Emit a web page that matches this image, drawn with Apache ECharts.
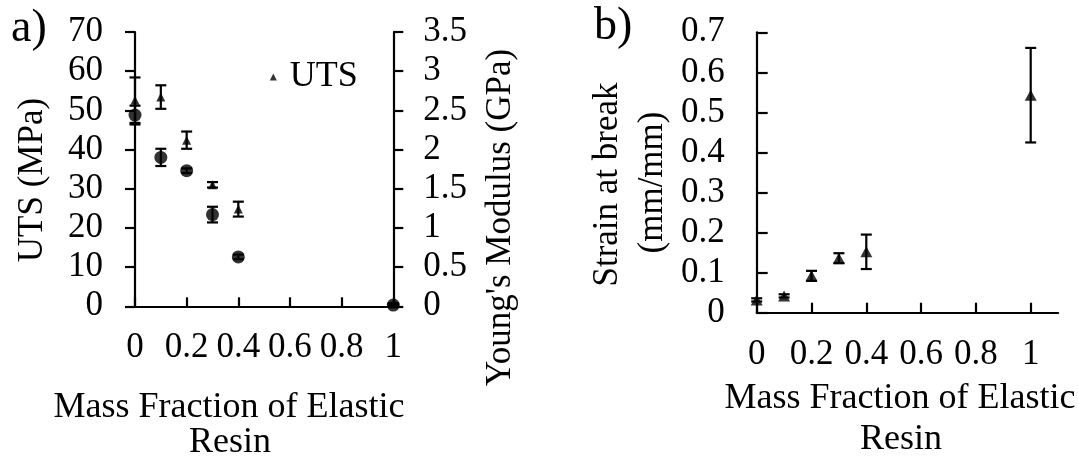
<!DOCTYPE html>
<html><head><meta charset="utf-8">
<script src="https://cdn.jsdelivr.net/npm/echarts@6/dist/echarts.min.js"></script>
<style>html,body{margin:0;padding:0;background:#fff}#c{width:1078px;height:457px}</style>
</head><body><div id="c"></div>
<script>
// ---- data ----
const massFraction = [0, 0.1, 0.2, 0.3, 0.4, 1];
const utsMean = [52.6, 53.4, 42.4, 31.0, 24.8, 0.6];      // MPa
const utsErr  = [5.8, 3.0, 2.2, 0.7, 1.9, 0.2];
const modulusMean = [2.44, 1.90, 1.73, 1.17, 0.63, 0.015]; // GPa
const modulusErr  = [0.12, 0.11, 0.03, 0.10, 0.03, 0.005];
const strainMean = [0.032, 0.042, 0.092, 0.136, 0.152, 0.543]; // mm/mm
const strainErr  = [0.004, 0.004, 0.0125, 0.0125, 0.043, 0.118];
const xTickValues = [0, 0.2, 0.4, 0.6, 0.8, 1];

const FONT = 'Liberation Serif';
const pts = (ys) => massFraction.map((x, i) => [x, ys[i]]);
const errs = (ys, es) => massFraction.map((x, i) => [x, ys[i] - es[i], ys[i] + es[i]]);

function errRender(params, api) {
  const x = api.value(0), lo = api.value(1), hi = api.value(2);
  const p1 = api.coord([x, lo]), p2 = api.coord([x, hi]);
  const hw = 5.5;
  const style = { stroke: '#000', lineWidth: 2.2 };
  return { type: 'group', children: [
    { type: 'line', shape: { x1: p1[0], y1: p1[1], x2: p2[0], y2: p2[1] }, style },
    { type: 'line', shape: { x1: p1[0] - hw, y1: p1[1], x2: p1[0] + hw, y2: p1[1] }, style },
    { type: 'line', shape: { x1: p2[0] - hw, y1: p2[1], x2: p2[0] + hw, y2: p2[1] }, style }
  ]};
}

const axisLineStyle = { show: true, lineStyle: { color: '#000', width: 2.2 } };
const tickStyle = { lineStyle: { color: '#000', width: 2.2 } };
const labelBase = { color: '#000', fontFamily: FONT, fontSize: 35 };

const chart = echarts.init(document.getElementById('c'), null, { renderer: 'canvas' });
chart.setOption({
  animation: false,
  backgroundColor: '#fff',
  grid: [
    { left: 135, top: 32, width: 258.3, height: 274.3 },
    { left: 756.7, top: 32.3, width: 301.4, height: 280.4 }
  ],
  legend: {
    data: ['UTS'], icon: 'triangle', itemWidth: 7, itemHeight: 7,
    left: 269.8, top: 59, padding: 0, selectedMode: false,
    textStyle: { color: '#000', fontFamily: FONT, fontSize: 36, padding: [0, 0, 0, 8] }
  },
  xAxis: [
    { type: 'value', gridIndex: 0, min: 0, max: 1, interval: 0.2,
      axisLine: axisLineStyle, splitLine: { show: false },
      axisTick: Object.assign({ inside: true, length: 9 }, tickStyle),
      axisLabel: Object.assign({ margin: 24.5 }, labelBase) },
    { type: 'value', gridIndex: 1, min: 0, max: 1.1,
      axisLine: axisLineStyle, splitLine: { show: false },
      axisTick: Object.assign({ inside: true, length: 10, customValues: xTickValues }, tickStyle),
      axisLabel: Object.assign({ margin: 25, customValues: xTickValues }, labelBase) }
  ],
  yAxis: [
    { type: 'value', gridIndex: 0, min: 0, max: 70, interval: 10,
      axisLine: axisLineStyle, splitLine: { show: false },
      axisTick: Object.assign({ inside: false, length: 10 }, tickStyle),
      axisLabel: Object.assign({ margin: 32 }, labelBase) },
    { type: 'value', gridIndex: 0, position: 'right', min: 0, max: 3.5, interval: 0.5,
      axisLine: axisLineStyle, splitLine: { show: false },
      axisTick: Object.assign({ inside: false, length: 10 }, tickStyle),
      axisLabel: Object.assign({ margin: 30 }, labelBase) },
    { type: 'value', gridIndex: 1, min: 0, max: 0.7, interval: 0.1,
      axisLine: axisLineStyle, splitLine: { show: false },
      axisTick: Object.assign({ inside: true, length: 11 }, tickStyle),
      axisLabel: Object.assign({ margin: 32 }, labelBase) }
  ],
  series: [
    { name: 'UTS err', type: 'custom', xAxisIndex: 0, yAxisIndex: 0, renderItem: errRender,
      encode: { x: 0, y: [1, 2] }, data: errs(utsMean, utsErr), z: 3 },
    { name: 'Modulus err', type: 'custom', xAxisIndex: 0, yAxisIndex: 1, renderItem: errRender,
      encode: { x: 0, y: [1, 2] }, data: errs(modulusMean, modulusErr), z: 3 },
    { name: "Young's Modulus", type: 'scatter', xAxisIndex: 0, yAxisIndex: 1,
      symbol: 'circle', symbolSize: 13, itemStyle: { color: '#000' }, data: pts(modulusMean), z: 4 },
    { name: 'UTS', type: 'scatter', xAxisIndex: 0, yAxisIndex: 0,
      symbol: 'triangle', symbolSize: [9, 9], itemStyle: { color: '#000' }, data: pts(utsMean), z: 5 },
    { name: 'Strain err', type: 'custom', xAxisIndex: 1, yAxisIndex: 2, renderItem: errRender,
      encode: { x: 0, y: [1, 2] }, data: errs(strainMean, strainErr), z: 3 },
    { name: 'Strain at break', type: 'scatter', xAxisIndex: 1, yAxisIndex: 2,
      symbol: 'triangle', symbolSize: [12, 11], itemStyle: { color: '#000' }, data: pts(strainMean), z: 4 }
  ],
  graphic: [
    { type: 'text', left: 11, top: 6, style: { text: 'a)', font: '46px "Liberation Serif"', fill: '#000' } },
    { type: 'text', left: 594, top: 4, style: { text: 'b)', font: '46px "Liberation Serif"', fill: '#000' } },
    { type: 'text', x: 33, y: 180, rotation: Math.PI / 2,
      style: { text: 'UTS (MPa)', font: '35px "Liberation Serif"', fill: '#000', align: 'center', verticalAlign: 'middle' } },
    { type: 'text', x: 501, y: 217.5, rotation: Math.PI / 2,
      style: { text: "Young's Modulus (GPa)", font: '35px "Liberation Serif"', fill: '#000', align: 'center', verticalAlign: 'middle' } },
    { type: 'text', x: 229, y: 407.5,
      style: { text: 'Mass Fraction of Elastic', font: '36px "Liberation Serif"', fill: '#000', align: 'center', verticalAlign: 'middle' } },
    { type: 'text', x: 230, y: 442.5,
      style: { text: 'Resin', font: '36px "Liberation Serif"', fill: '#000', align: 'center', verticalAlign: 'middle' } },
    { type: 'text', x: 608, y: 184.5, rotation: Math.PI / 2,
      style: { text: 'Strain at break', font: '35px "Liberation Serif"', fill: '#000', align: 'center', verticalAlign: 'middle' } },
    { type: 'text', x: 653, y: 182.5, rotation: Math.PI / 2,
      style: { text: '(mm/mm)', font: '35px "Liberation Serif"', fill: '#000', align: 'center', verticalAlign: 'middle' } },
    { type: 'text', x: 900, y: 399,
      style: { text: 'Mass Fraction of Elastic', font: '36px "Liberation Serif"', fill: '#000', align: 'center', verticalAlign: 'middle' } },
    { type: 'text', x: 901, y: 440,
      style: { text: 'Resin', font: '36px "Liberation Serif"', fill: '#000', align: 'center', verticalAlign: 'middle' } }
  ]
});
</script></body></html>
